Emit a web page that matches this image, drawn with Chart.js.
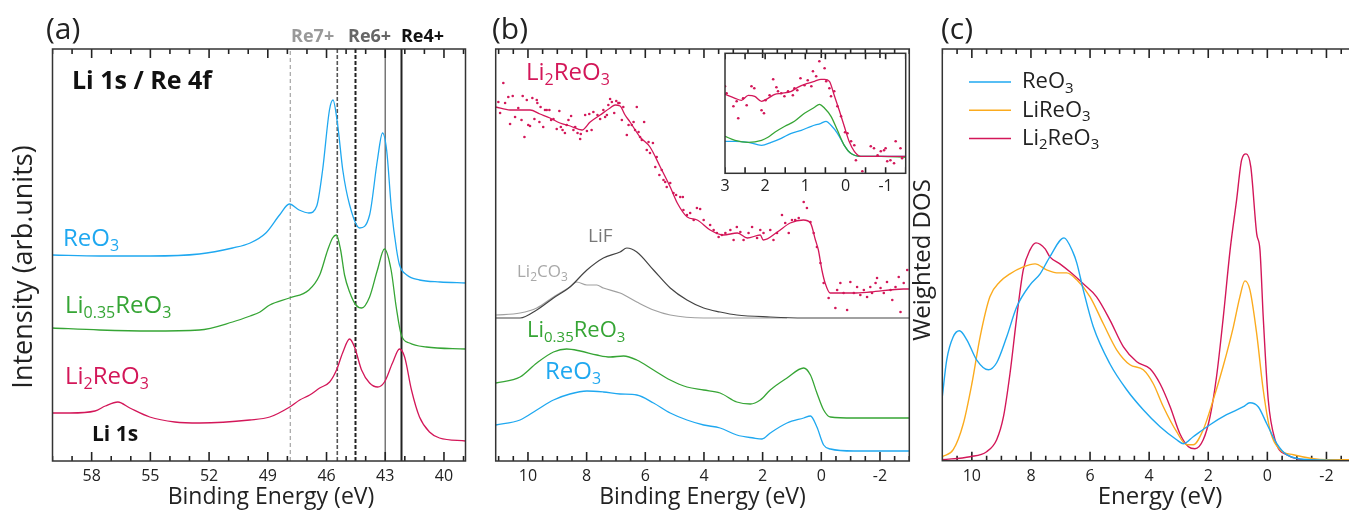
<!DOCTYPE html>
<html>
<head>
<meta charset="utf-8">
<script src="https://cdn.jsdelivr.net/npm/chart.js@4.4.1/dist/chart.umd.min.js"></script>
<style>
  html, body { margin: 0; padding: 0; background: #fff; overflow: hidden; width: 1349px; height: 510px; }
  canvas { position: absolute; top: 0; }
</style>
</head>
<body>
<canvas id="chartA" width="470" height="510" style="left:0px"></canvas>
<canvas id="chartB" width="445" height="510" style="left:470px"></canvas>
<canvas id="chartInset" width="215" height="165" style="left:700px; top:40px"></canvas>
<canvas id="chartC" width="455" height="510" style="left:905px"></canvas>
<script>
// ---- data (energies in eV, intensities in arbitrary units) ----

// (a) Li 1s / Re 4f core levels
const aTicks = [58, 55, 52, 49, 46, 43, 40];
const aReO3 = [[60.0,206],[57.6,205],[55.0,205],[52.5,207],[50.8,213],[49.9,218],[49.1,228],[48.4,246],[47.9,257],[47.4,251],[46.9,248],[46.5,255],[46.2,291],[45.85,351],[45.67,361],[45.43,336],[45.17,291],[44.82,256],[44.31,233],[43.8,246],[43.4,301],[43.14,328],[42.93,311],[42.68,251],[42.42,211],[42.27,196],[41.9,186],[41.25,181],[40.2,179],[38.9,178]];
const aLi035 = [[60.0,133],[57.6,131],[55.0,130],[52.5,131],[50.8,139],[49.9,145],[49.4,149],[48.9,156],[47.9,163],[46.9,171],[46.35,186],[45.94,211],[45.69,223],[45.5,226],[45.28,211],[45.08,186],[44.82,169],[44.5,156],[44.2,153],[43.8,164],[43.4,191],[43.04,212],[42.7,191],[42.44,154],[42.18,126],[41.76,118],[40.9,114],[38.9,112]];
const aLi2 = [[60.0,48],[59.1,48],[57.83,50],[57.3,55],[56.66,59],[56.05,53],[55.03,44],[53.75,39],[52.47,38],[49.92,41],[48.9,44],[47.88,54],[47.37,61],[46.86,66],[46.35,73],[45.84,79],[45.49,91],[45.18,108],[44.82,122],[44.57,114],[44.21,91],[43.8,78],[43.39,74],[43.04,79],[42.63,98],[42.27,112],[42.01,104],[41.66,71],[41.25,44],[40.74,29],[40.23,23],[38.9,20]];
const aRefLines = [47.85, 45.45, 44.52, 43.0, 42.17];
const aOxLabels = ['Re7+', 'Re6+', 'Re4+'];
const aOxPos = [46.71, 43.8, 41.1];

// (b) valence band
const bTicks = [10, 8, 6, 4, 2, 0, -2];
const bLi2Fit = [[11.1,354],[10.61,351],[9.93,351],[9.59,347],[9.25,343],[8.91,338],[8.56,335],[8.16,331],[7.88,339],[7.54,346],[7.2,353],[7.03,356],[6.86,355],[6.69,346],[6.52,339],[6.18,324],[5.84,314],[5.49,294],[5.15,274],[4.91,258],[4.57,244],[4.23,241],[3.79,231],[3.34,226],[2.86,228],[2.52,223],[2.08,226],[1.98,221],[1.5,229],[1.06,238],[0.61,241],[0.37,238],[0.2,221],[0.1,211],[-0.02,191],[-0.13,178],[-0.3,168],[-1.09,168],[-1.67,169],[-2.8,172],[-3.0,172]];
const bLi2Dots = [[11.01,359],[10.84,378],[10.78,358],[10.95,348],[10.67,364],[10.52,365],[10.61,337],[10.44,344],[10.33,353],[10.22,341],[10.18,365],[10.12,324],[10.04,361],[9.99,336],[9.93,335],[9.85,363],[9.78,342],[9.70,361],[9.68,358],[9.61,339],[9.57,354],[9.48,334],[9.42,351],[9.36,351],[9.27,351],[9.21,341],[9.13,342],[9.02,332],[8.93,350],[8.88,334],[8.82,331],[8.74,328],[8.68,336],[8.62,341],[8.53,345],[8.45,331],[8.39,334],[8.31,328],[8.22,322],[8.20,327],[8.05,346],[7.99,330],[7.91,347],[7.83,331],[7.77,349],[7.63,346],[7.54,342],[7.43,351],[7.37,344],[7.31,346],[7.26,356],[7.20,362],[7.14,359],[7.06,348],[6.99,360],[6.92,358],[6.88,358],[6.80,341],[6.75,354],[6.63,326],[6.57,336],[6.46,336],[6.40,339],[6.35,331],[6.29,354],[6.23,329],[6.18,324],[6.12,321],[6.04,339],[5.95,311],[5.89,319],[5.84,308],[5.74,318],[5.66,294],[5.61,304],[5.52,286],[5.44,291],[5.38,281],[5.32,279],[5.27,274],[5.15,278],[5.04,268],[4.95,266],[4.81,264],[4.72,264],[4.70,251],[4.58,246],[4.47,248],[4.35,241],[4.24,253],[4.13,252],[4.01,241],[3.79,236],[3.67,231],[3.56,228],[3.5,224],[3.39,226],[3.27,228],[3.10,231],[2.99,221],[2.88,234],[2.76,229],[2.65,221],[2.48,228],[2.36,234],[2.19,223],[2.08,231],[1.97,228],[1.74,231],[1.63,221],[1.51,228],[1.34,246],[1.23,238],[1.11,228],[1.0,241],[0.89,241],[0.77,243],[0.6,259],[0.49,253],[0.37,239],[0.26,228],[0.15,214],[0.03,198],[-0.08,178],[-0.25,163],[-0.48,153],[-0.54,171],[-0.65,178],[-0.76,168],[-0.88,151],[-0.99,179],[-1.11,168],[-1.22,174],[-1.33,166],[-1.45,171],[-1.56,164],[-1.67,174],[-1.73,168],[-1.85,178],[-1.9,183],[-2.02,173],[-2.13,168],[-2.24,179],[-2.36,171],[-2.42,161],[-2.53,174],[-2.64,184],[-2.7,149],[-2.81,178],[-2.93,191]];
const bLiF = [[11.1,143],[10.27,143],[9.7,151],[9.13,163],[8.57,174],[7.99,191],[7.43,203],[6.86,209],[6.63,213],[6.29,209],[5.72,191],[5.15,173],[4.58,161],[4.01,153],[3.45,149],[2.88,146],[1.74,144],[0.6,143],[-3.0,143]];
const bLi2CO3 = [[11.1,146],[10.27,148],[9.7,153],[9.13,164],[8.57,174],[8.34,179],[7.99,176],[7.65,176],[7.43,173],[6.86,168],[6.29,159],[5.72,151],[5.15,146],[4.01,143],[2.88,143],[1.17,143]];
const bLi035 = [[11.1,78],[10.27,84],[9.7,98],[9.13,109],[8.68,112],[8.22,110],[7.65,106],[7.2,104],[6.74,105],[6.29,101],[5.72,91],[5.15,81],[4.58,74],[4.01,71],[3.45,68],[2.88,59],[2.42,57],[2.08,61],[1.74,71],[1.17,83],[0.6,93],[0.37,86],[0.15,68],[-0.08,51],[-0.31,44],[-1.11,43],[-3.0,43]];
const bReO3 = [[11.1,36],[10.27,41],[9.7,51],[9.13,61],[8.57,67],[7.99,70],[7.43,69],[6.86,67],[6.29,66],[5.72,58],[5.15,48],[4.58,41],[4.01,36],[3.45,33],[2.88,26],[2.31,23],[2.02,22],[1.74,28],[1.17,38],[0.6,43],[0.37,45],[0.15,34],[-0.08,16],[-0.31,12],[-1.11,10],[-3.0,10]];

// (b) inset, near the Fermi level
const insetTicks = [3, 2, 1, 0, -1];
const insetLi2Fit = [[3.0,79],[2.75,75],[2.59,73],[2.42,78],[2.26,77],[2.09,72],[1.93,75],[1.76,79],[1.6,80],[1.35,82],[1.19,86],[0.94,90],[0.77,92],[0.61,94],[0.52,94],[0.4,92],[0.28,78],[0.155,63],[0.03,47],[-0.09,32],[-0.22,22],[-0.38,17],[-0.71,17],[-1.04,17],[-1.5,17]];
const insetLi2Dots = [[3.0,87],[2.96,80],[2.79,67],[2.71,72],[2.67,55],[2.55,75],[2.46,68],[2.34,87],[2.27,85],[2.09,63],[2.03,60],[1.99,73],[1.89,78],[1.8,94],[1.72,86],[1.68,82],[1.6,80],[1.52,77],[1.43,82],[1.31,78],[1.27,85],[1.2,83],[1.12,95],[1.02,88],[0.94,93],[0.85,87],[0.81,102],[0.73,97],[0.65,112],[0.52,105],[0.48,92],[0.4,85],[0.36,77],[0.28,82],[0.2,67],[0.11,57],[0.01,41],[-0.05,40],[-0.14,32],[-0.22,28],[-0.26,13],[-0.42,2],[-0.63,27],[-0.71,25],[-0.8,18],[-0.88,22],[-0.96,23],[-1.0,25],[-1.04,12],[-1.12,13],[-1.21,10],[-1.25,32],[-1.37,25],[-1.41,15]];
const insetLi035 = [[3.0,37],[2.75,33],[2.42,31],[2.09,33],[1.93,36],[1.76,41],[1.51,47],[1.27,52],[1.02,60],[0.77,66],[0.65,69],[0.52,65],[0.36,57],[0.2,43],[0.03,28],[-0.13,20],[-0.38,17],[-0.88,17],[-1.5,16]];
const insetReO3 = [[3.0,32],[2.75,32],[2.42,31],[2.09,28],[1.85,31],[1.6,35],[1.35,40],[1.1,43],[0.85,47],[0.61,50],[0.48,52],[0.36,48],[0.2,40],[0.03,28],[-0.13,20],[-0.38,17],[-0.88,17],[-1.5,17]];

// (c) calculated weighted DOS
const cTicks = [10, 8, 6, 4, 2, 0, -2];
const cReO3 = [[11.0,64],[10.85,101],[10.63,124],[10.42,130],[10.17,121],[9.84,101],[9.44,91],[9.16,98],[8.82,124],[8.48,154],[8.03,176],[7.69,187],[7.36,204],[6.88,223],[6.57,208],[6.45,198],[6.23,171],[5.89,134],[5.33,97],[4.76,71],[4.2,51],[3.63,34],[3.07,21],[2.84,17],[2.51,24],[1.94,36],[1.38,46],[0.81,54],[0.59,58],[0.31,54],[0.02,37],[-0.32,17],[-0.65,6],[-1.44,1],[-3.0,0]];
const cLiReO3 = [[11.0,4],[10.63,11],[10.29,37],[10.0,77],[9.72,124],[9.39,164],[9.05,179],[8.71,187],[8.26,194],[7.86,197],[7.47,191],[7.13,188],[6.79,188],[6.45,181],[6.0,164],[5.55,137],[5.1,111],[4.65,96],[4.2,91],[3.86,77],[3.52,54],[3.07,29],[2.73,16],[2.51,16],[2.17,31],[1.83,61],[1.5,94],[1.15,134],[0.93,164],[0.76,180],[0.59,171],[0.36,127],[0.14,71],[-0.09,31],[-0.43,11],[-0.88,6],[-2.01,1],[-3.0,1]];
const cLi2ReO3 = [[11.0,1],[10.06,4],[9.5,9],[9.16,21],[8.93,44],[8.71,87],[8.48,144],[8.26,191],[8.03,211],[7.83,218],[7.52,212],[7.36,204],[7.02,197],[6.68,189],[6.23,177],[5.78,164],[5.33,141],[4.87,114],[4.42,99],[3.97,92],[3.63,77],[3.29,54],[2.96,27],[2.67,14],[2.45,12],[2.17,21],[1.94,44],[1.72,84],[1.49,144],[1.26,211],[1.04,261],[0.87,301],[0.72,307],[0.56,294],[0.36,227],[0.25,211],[0.14,144],[-0.03,61],[-0.26,21],[-0.65,6],[-1.44,1],[-3.0,1]];

// ---- styling ----
const FONT = '"Open Sans", "Noto Sans", "DejaVu Sans", sans-serif';
const BLUE = '#1fa8f0';
const GREEN = '#36a535';
const CRIMSON = '#d31759';
const ORANGE = '#fbab1e';
const INK = '#222';

const pts = arr => arr.map(p => ({x: p[0], y: p[1]}));

function curve(label, arr, color, width) {
  return {
    label: label, data: pts(arr), borderColor: color, borderWidth: width || 1.3,
    pointRadius: 0, fill: false, cubicInterpolationMode: 'monotone'
  };
}

function dots(arr, color, r) {
  return {
    data: pts(arr), showLine: false, pointRadius: r, pointBorderWidth: 0,
    pointBackgroundColor: color, borderColor: color
  };
}

// inward tick marks on the bottom and top edges, drawn as a broken line dataset
function tickMarks(t) {
  const data = [];
  for (let i = Math.round(t.min / t.step); i * t.step <= t.max + 1e-6; i++) {
    const v = i * t.step;
    if (v < t.min - 1e-6) continue;
    const len = t.major.indexOf(v) >= 0 ? t.majorLen : t.minorLen;
    data.push({x: v, y: 0}, {x: v, y: len}, {x: v, y: null});
    data.push({x: v, y: t.ymax}, {x: v, y: t.ymax - len}, {x: v, y: null});
  }
  return {
    data: data, borderColor: '#222222', borderWidth: 1.6, pointRadius: 0,
    spanGaps: false, tension: 0
  };
}

// text with "_{..}" subscripts
function richText(ctx, str, x, y, size, color, weight, align) {
  const segs = str.split(/(_\{[^}]*\})/).filter(s => s.length).map(p =>
    p.startsWith('_{') ? {t: p.slice(2, -1), sub: true} : {t: p, sub: false});
  ctx.save();
  ctx.fillStyle = color || INK;
  ctx.textBaseline = 'middle';
  ctx.textAlign = 'left';
  const fontOf = s => `${weight || 'normal'} ${s.sub ? Math.round(size * 0.68) : size}px ${FONT}`;
  let w = 0;
  segs.forEach(s => { ctx.font = fontOf(s); s.w = ctx.measureText(s.t).width; w += s.w; });
  let cx = align === 'center' ? x - w / 2 : x;
  segs.forEach(s => {
    ctx.font = fontOf(s);
    ctx.fillText(s.t, cx, s.sub ? y + size * 0.3 : y);
    cx += s.w;
  });
  ctx.restore();
}

// frame round the plot area
const frame = {
  id: 'frame',
  afterDraw(chart) {
    const ctx = chart.ctx;
    const a = chart.chartArea;
    ctx.save();
    ctx.lineWidth = 1.5;
    ctx.strokeStyle = '#333333';
    ctx.strokeRect(a.left, a.top, a.right - a.left, a.bottom - a.top);
    ctx.restore();
  }
};

// free labels (panel letters, series names, axis titles)
function labelText(items) {
  return {
    id: 'labelText',
    afterDraw(chart) {
      const ctx = chart.ctx;
      items.forEach(it => {
        const x = it.xv !== undefined ? chart.scales.x.getPixelForValue(it.xv) : it.x;
        if (it.rot) {
          ctx.save();
          ctx.translate(x, it.y);
          ctx.rotate(-Math.PI / 2);
          richText(ctx, it.t, 0, 0, it.size, it.color, it.weight, 'center');
          ctx.restore();
        } else {
          richText(ctx, it.t, x, it.y, it.size, it.color, it.weight, it.align);
        }
      });
    }
  };
}

// legend for (c) drawn with subscripts
function subLegend(cfg) {
  return {
    id: 'subLegend',
    afterDraw(chart) {
      const ctx = chart.ctx;
      chart.data.datasets.forEach((ds, i) => {
        if (!ds.label) return;
        const y = cfg.y + i * cfg.gap;
        ctx.save();
        ctx.strokeStyle = ds.borderColor;
        ctx.lineWidth = 1.5;
        ctx.beginPath();
        ctx.moveTo(cfg.x0, y);
        ctx.lineTo(cfg.x1, y);
        ctx.stroke();
        ctx.restore();
        richText(ctx, ds.label, cfg.tx, y, cfg.size, INK);
      });
    }
  };
}

function makeOptions(c) {
  return {
    responsive: false,
    animation: false,
    events: [],
    layout: {padding: c.padding},
    scales: {
      x: {
        type: 'linear', reverse: true, min: c.xmin, max: c.xmax,
        afterFit: s => { s.height = c.xHeight; },
        afterBuildTicks: s => { s.ticks = c.ticks.map(v => ({value: v})); },
        grid: {display: false, drawTicks: false},
        border: {display: false},
        ticks: {font: {family: FONT, size: 16}, color: INK, padding: c.tickPad, autoSkip: false, maxRotation: 0}
      },
      y: {display: false, min: 0, max: c.ymax}
    },
    plugins: {
      legend: {display: false},
      tooltip: {enabled: false}
    }
  };
}

// ---- (a) ----
const refStyles = [
  {color: '#aaaaaa', dash: [4, 3], width: 1.3},
  {color: '#555555', dash: [4, 2], width: 1.6},
  {color: '#222222', dash: [4, 2], width: 2},
  {color: '#777777', dash: [], width: 1.5},
  {color: '#222222', dash: [], width: 2}
];
const refSets = aRefLines.map((e, i) => ({
  data: [{x: e, y: 0}, {x: e, y: 412}], borderColor: refStyles[i].color,
  borderDash: refStyles[i].dash, borderWidth: refStyles[i].width, pointRadius: 0
}));
const oxColors = ['#999999', '#666666', '#111111'];

new Chart(document.getElementById('chartA'), {
  type: 'line',
  data: {datasets: [
    tickMarks({min: 38.9, max: 60, step: 1, major: aTicks, majorLen: 9, minorLen: 5, ymax: 412}),
    curve('ReO3', aReO3, BLUE),
    curve('Li0.35ReO3', aLi035, GREEN),
    curve('Li2ReO3', aLi2, CRIMSON)
  ].concat(refSets)},
  options: makeOptions({
    xmin: 38.9, xmax: 60, ymax: 412, ticks: aTicks, xHeight: 49, tickPad: 6,
    padding: {left: 52.5, right: 4.5, top: 49, bottom: 0}
  }),
  plugins: [
    frame,
    labelText([
      {t: '(a)', x: 46, y: 30, size: 30},
      {t: 'Li 1s / Re 4f', x: 72, y: 82, size: 25, weight: 'bold', color: '#111'},
      {t: 'Li 1s', x: 92, y: 435, size: 21, weight: 'bold', color: '#111'},
      {t: 'ReO_{3}', x: 63, y: 239, size: 24, color: BLUE},
      {t: 'Li_{0.35}ReO_{3}', x: 65, y: 306, size: 24, color: GREEN},
      {t: 'Li_{2}ReO_{3}', x: 65, y: 377, size: 24, color: CRIMSON},
      {t: 'Intensity (arb.units)', x: 24, y: 267, size: 27, rot: true},
      {t: 'Binding Energy (eV)', x: 271, y: 497, size: 23, align: 'center'}
    ].concat(aOxLabels.map((t, i) => ({
      t: t, xv: aOxPos[i], y: 37, size: 18, weight: 'bold', color: oxColors[i], align: 'center'
    }))))
  ]
});

// ---- (b) ----
new Chart(document.getElementById('chartB'), {
  type: 'line',
  data: {datasets: [
    tickMarks({min: -3.0, max: 11.1, step: 0.5, major: bTicks, majorLen: 9, minorLen: 5, ymax: 412}),
    curve('Li2ReO3 fit', bLi2Fit, CRIMSON, 1.3),
    dots(bLi2Dots, CRIMSON, 1.3),
    curve('LiF', bLiF, '#444444', 1.2),
    curve('Li2CO3', bLi2CO3, '#a0a0a0', 1.2),
    curve('Li0.35ReO3', bLi035, GREEN),
    curve('ReO3', bReO3, BLUE)
  ]},
  options: makeOptions({
    xmin: -3.0, xmax: 11.1, ymax: 412, ticks: bTicks, xHeight: 49, tickPad: 6,
    padding: {left: 25.7, right: 5.7, top: 49, bottom: 0}
  }),
  plugins: [
    frame,
    labelText([
      {t: '(b)', x: 22, y: 30, size: 30},
      {t: 'Li_{2}ReO_{3}', x: 56, y: 73, size: 24, color: CRIMSON},
      {t: 'LiF', x: 118, y: 237, size: 19, color: '#777777'},
      {t: 'Li_{2}CO_{3}', x: 47, y: 272, size: 17, color: '#a8a8a8'},
      {t: 'Li_{0.35}ReO_{3}', x: 57, y: 331, size: 22, color: GREEN},
      {t: 'ReO_{3}', x: 75, y: 372, size: 24, color: BLUE},
      {t: 'Binding Energy (eV)', x: 232.5, y: 497, size: 23, align: 'center'}
    ])
  ]
});

// ---- (b) inset ----
new Chart(document.getElementById('chartInset'), {
  type: 'line',
  data: {datasets: [
    tickMarks({min: -1.5, max: 3, step: 0.5, major: insetTicks, majorLen: 6, minorLen: 6, ymax: 120}),
    curve('Li2ReO3 fit', insetLi2Fit, CRIMSON, 1.3),
    dots(insetLi2Dots, CRIMSON, 1.3),
    curve('Li0.35ReO3', insetLi035, GREEN),
    curve('ReO3', insetReO3, BLUE)
  ]},
  options: makeOptions({
    xmin: -1.5, xmax: 3, ymax: 120, ticks: insetTicks, xHeight: 31.7, tickPad: 4,
    padding: {left: 25, right: 9.3, top: 13.3, bottom: 0}
  }),
  plugins: [frame]
});

// ---- (c) ----
new Chart(document.getElementById('chartC'), {
  type: 'line',
  data: {datasets: [
    curve('ReO_{3}', cReO3, BLUE, 1.4),
    curve('LiReO_{3}', cLiReO3, ORANGE, 1.4),
    curve('Li_{2}ReO_{3}', cLi2ReO3, CRIMSON, 1.4),
    tickMarks({min: -3, max: 11, step: 0.5, major: cTicks, majorLen: 9, minorLen: 5, ymax: 412})
  ]},
  options: makeOptions({
    xmin: -3, xmax: 11, ymax: 412, ticks: cTicks, xHeight: 49.3, tickPad: 6,
    padding: {left: 37.3, right: 4, top: 49, bottom: 0}
  }),
  plugins: [
    frame,
    subLegend({x0: 64, x1: 106, tx: 117, y: 82, gap: 28.3, size: 22}),
    labelText([
      {t: '(c)', x: 36, y: 30, size: 30},
      {t: 'Weighted DOS', x: 18, y: 260, size: 24, rot: true},
      {t: 'Energy (eV)', x: 255, y: 497, size: 24, align: 'center'}
    ])
  ]
});
</script>
</body>
</html>
